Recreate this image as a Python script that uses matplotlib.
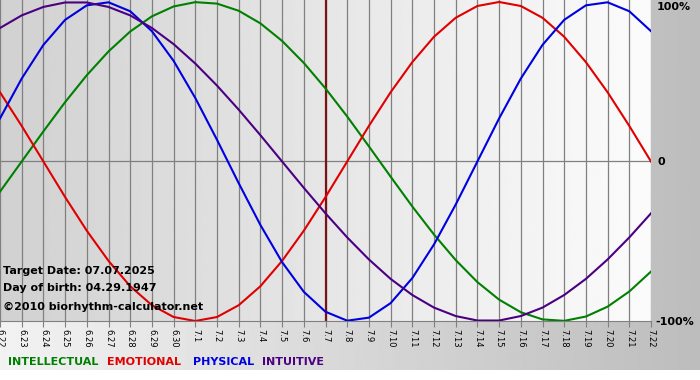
import matplotlib.pyplot as plt
import numpy as np

# day labels, 6.22 .. 7.22
dates = ['6.22', '6.23', '6.24', '6.25', '6.26', '6.27', '6.28', '6.29', '6.30',
         '7.1', '7.2', '7.3', '7.4', '7.5', '7.6', '7.7', '7.8', '7.9', '7.10',
         '7.11', '7.12', '7.13', '7.14', '7.15', '7.16', '7.17', '7.18', '7.19',
         '7.20', '7.21', '7.22']
target_date = '7.7'

# cycle values per day (fraction of 100%)
physical = [0.270, 0.520, 0.731, 0.888, 0.979, 0.998, 0.942, 0.817, 0.631, 0.398,
            0.136, -0.136, -0.398, -0.631, -0.817, -0.942, -0.998, -0.979, -0.888,
            -0.731, -0.520, -0.270, 0.000, 0.270, 0.520, 0.731, 0.888, 0.979, 0.998,
            0.942, 0.817]
emotional = [0.434, 0.223, 0.000, -0.223, -0.434, -0.623, -0.782, -0.901, -0.975,
             -1.000, -0.975, -0.901, -0.782, -0.623, -0.434, -0.223, 0.000, 0.223,
             0.434, 0.623, 0.782, 0.901, 0.975, 1.000, 0.975, 0.901, 0.782, 0.623,
             0.434, 0.223, 0.000]
intellectual = [-0.189, 0.000, 0.189, 0.372, 0.541, 0.690, 0.815, 0.910, 0.972, 0.999,
                0.990, 0.945, 0.866, 0.756, 0.618, 0.458, 0.282, 0.095, -0.095,
                -0.282, -0.458, -0.618, -0.756, -0.866, -0.945, -0.990, -0.999,
                -0.972, -0.910, -0.815, -0.690]
intuitive = [0.837, 0.916, 0.969, 0.997, 0.997, 0.969, 0.916, 0.837, 0.736, 0.614,
             0.476, 0.325, 0.165, 0.000, -0.165, -0.325, -0.476, -0.614, -0.736,
             -0.837, -0.916, -0.969, -0.997, -0.997, -0.969, -0.916, -0.837, -0.736,
             -0.614, -0.476, -0.325]

W, H = 700, 380
fig = plt.figure(figsize=(7, 3.8), dpi=100)

# figure background: light -> gray gradient, white strip at the bottom
bg = fig.add_axes([0, 10 / H, 1, 370 / H], zorder=-5)
bg.imshow(np.linspace(0.95, 0.74, 256)[None, :], cmap='gray', vmin=0, vmax=1,
          aspect='auto', extent=[0, 1, 0, 1])
bg.axis('off')

ax = fig.add_axes([0, 59 / H, 651 / W, 321 / H])
x = np.arange(len(dates))
ax.set_xlim(0, len(dates) - 1)
ax.set_ylim(-1.0, 1.0125)

ax.imshow(np.linspace(0.82, 0.985, 256)[None, :], cmap='gray', vmin=0, vmax=1,
          aspect='auto', extent=[0, len(dates) - 1, -1.0, 1.0125], zorder=0)

for xi in x:
    ax.axvline(xi, color='#808080', lw=0.9, zorder=1)
ax.axhline(0, color='#808080', lw=0.9, zorder=1)
ax.axvline(dates.index(target_date), color='#7a1414', lw=1.6, zorder=2)

ax.plot(x, intellectual, color='#008000', lw=1.5, zorder=3)
ax.plot(x, emotional, color='#e00000', lw=1.5, zorder=3)
ax.plot(x, physical, color='#0000e0', lw=1.5, zorder=3)
ax.plot(x, intuitive, color='#4b0082', lw=1.5, zorder=3)

for s in ['top', 'right', 'left']:
    ax.spines[s].set_visible(False)
ax.spines['bottom'].set_color('#808080')
ax.set_yticks([])
ax.set_xticks(x)
ax.set_xticklabels(dates)
ax.tick_params(axis='x', direction='out', length=4, color='#808080', pad=2,
               labelsize=6, labelrotation=-90)

# right side percent labels
fig.text(657 / W, 1 - 7 / H, '100%', fontsize=8, fontweight='bold', va='center')
fig.text(657 / W, 1 - 162 / H, '0', fontsize=8, fontweight='bold', va='center')
fig.text(655 / W, 1 - 322 / H, '-100%', fontsize=8, fontweight='bold', va='center')

# info text
fig.text(3 / W, 1 - 271 / H, 'Target Date: 07.07.2025', fontsize=8, fontweight='bold', va='center')
fig.text(3 / W, 1 - 288 / H, 'Day of birth: 04.29.1947', fontsize=8, fontweight='bold', va='center')
fig.text(3 / W, 1 - 307 / H, '\u00a92010 biorhythm-calculator.net', fontsize=8, fontweight='bold', va='center')

# legend row
fig.text(8 / W, 1 - 362 / H, 'INTELLECTUAL', color='#008000', fontsize=8, fontweight='bold', va='center')
fig.text(107 / W, 1 - 362 / H, 'EMOTIONAL', color='#e00000', fontsize=8, fontweight='bold', va='center')
fig.text(193 / W, 1 - 362 / H, 'PHYSICAL', color='#0000e0', fontsize=8, fontweight='bold', va='center')
fig.text(262 / W, 1 - 362 / H, 'INTUITIVE', color='#4b0082', fontsize=8, fontweight='bold', va='center')

plt.savefig('out.png', dpi=100)
